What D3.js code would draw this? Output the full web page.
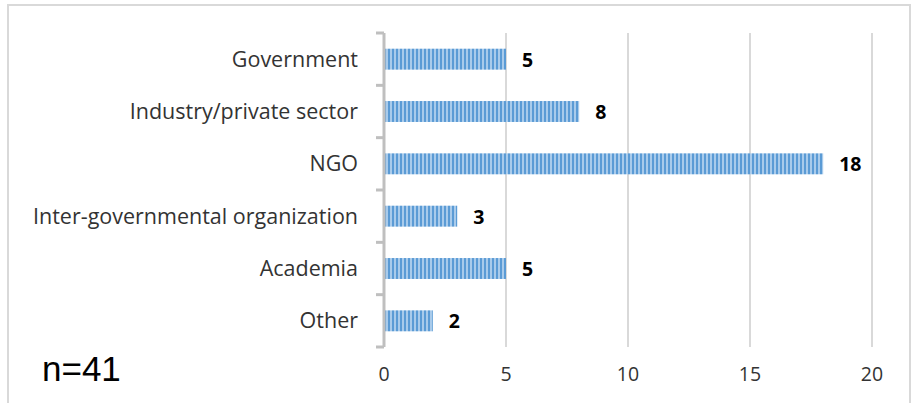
<!DOCTYPE html>
<html>
<head>
<meta charset="utf-8">
<script src="https://cdn.jsdelivr.net/npm/d3@7"></script>
<style>
  html, body { margin: 0; padding: 0; background: #fff; }
</style>
</head>
<body>
<div id="canvas"></div>
<script>
'use strict';

const categories = ['Government', 'Industry/private sector', 'NGO',
  'Inter-governmental organization', 'Academia', 'Other'];
const counts = [5, 8, 18, 3, 5, 2];
const xTicks = [0, 5, 10, 15, 20];
const sampleNote = 'n=41';

const width = 912;
const height = 403;
const margins = {top: 33, right: 40, bottom: 58, left: 384};
const font = '"Open Sans", Lato, sans-serif';

const svg = d3.select('#canvas').append('svg')
    .attr('width', width)
    .attr('height', height);

/* Light chart frame; the bottom edge runs off the picture. */
svg.append('path')
    .attr('d', `M8,${height + 2} V5 H910 V${height + 2}`)
    .attr('fill', 'none')
    .attr('stroke', '#d9d9d9')
    .attr('stroke-width', 2);

/* Striped fill for the bars. */
const pattern = svg.append('defs').append('pattern')
    .attr('id', 'stripes')
    .attr('patternUnits', 'userSpaceOnUse')
    .attr('width', 4)
    .attr('height', 10);
pattern.append('rect')
    .attr('width', 4).attr('height', 10)
    .attr('fill', '#5b9bd5');
pattern.append('rect')
    .attr('x', 2).attr('width', 2).attr('height', 10)
    .attr('fill', '#a9cbeb');

const plotTop = margins.top;
const plotBottom = height - margins.bottom + 2;

const x = d3.scaleLinear()
    .domain([0, 20])
    .range([margins.left, 872]);

const y = d3.scaleBand()
    .domain(categories)
    .range([plotTop, plotBottom])
    .paddingInner(0.6)
    .paddingOuter(0.3);

/* Vertical gridlines */
svg.append('g')
    .selectAll('line')
    .data(xTicks.filter((d) => d > 0))
    .join('line')
    .attr('x1', (d) => x(d))
    .attr('x2', (d) => x(d))
    .attr('y1', plotTop)
    .attr('y2', plotBottom)
    .attr('stroke', '#d9d9d9')
    .attr('stroke-width', 2);

/* Bars */
svg.append('g')
    .selectAll('rect')
    .data(categories)
    .join('rect')
    .attr('x', x(0))
    .attr('y', (d) => y(d))
    .attr('width', (d, i) => x(counts[i]) - x(0))
    .attr('height', y.bandwidth())
    .attr('fill', 'url(#stripes)');

/* Category axis with tick marks between categories */
const boundaries = d3.range(categories.length + 1)
    .map((i) => plotTop + i * (plotBottom - plotTop) / categories.length);
const yAxis = svg.append('g');
yAxis.append('line')
    .attr('x1', x(0)).attr('x2', x(0))
    .attr('y1', plotTop).attr('y2', plotBottom)
    .attr('stroke', '#bfbfbf')
    .attr('stroke-width', 3);
yAxis.selectAll('line.tick')
    .data(boundaries)
    .join('line')
    .attr('class', 'tick')
    .attr('x1', x(0) - 8).attr('x2', x(0))
    .attr('y1', (d) => d).attr('y2', (d) => d)
    .attr('stroke', '#bfbfbf')
    .attr('stroke-width', 3);

yAxis.selectAll('text')
    .data(categories)
    .join('text')
    .attr('x', 358)
    .attr('y', (d) => y(d) + y.bandwidth() / 2)
    .attr('dy', '0.35em')
    .attr('text-anchor', 'end')
    .attr('font-family', font)
    .attr('font-size', 21.5)
    .attr('fill', '#333')
    .text((d) => d);

/* Value labels */
svg.append('g')
    .selectAll('text')
    .data(categories)
    .join('text')
    .attr('x', (d, i) => x(counts[i]) + 16)
    .attr('y', (d) => y(d) + y.bandwidth() / 2)
    .attr('dy', '0.38em')
    .attr('font-family', font)
    .attr('font-weight', 'bold')
    .attr('font-size', 19.5)
    .attr('fill', '#000')
    .text((d, i) => counts[i]);

/* Value axis labels */
svg.append('g')
    .selectAll('text')
    .data(xTicks)
    .join('text')
    .attr('x', (d) => x(d))
    .attr('y', 381)
    .attr('text-anchor', 'middle')
    .attr('font-family', font)
    .attr('font-size', 19.5)
    .attr('fill', '#333')
    .text((d) => d);

svg.append('text')
    .attr('x', 42)
    .attr('y', 381)
    .attr('font-family', '"Liberation Sans", Arial, sans-serif')
    .attr('font-size', 35)
    .attr('fill', '#000')
    .text(sampleNote);
</script>
</body>
</html>
